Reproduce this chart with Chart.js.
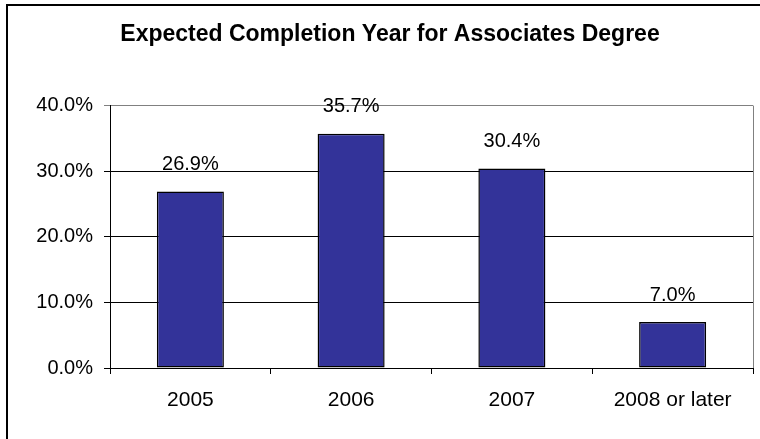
<!DOCTYPE html>
<html>
<head>
<meta charset="utf-8">
<script src="https://cdn.jsdelivr.net/npm/chart.js@4/dist/chart.umd.min.js"></script>
<style>
  body { margin: 0; background: #fff; }
  canvas { display: block; }
</style>
</head>
<body>
<canvas id="chartCompletion" width="760" height="439"></canvas>
<script>
  /* Año esperado de finalización */
  const years = ['2005', '2006', '2007', '2008 or later'];
  const shares = [26.9, 35.7, 30.4, 7.0];
  const yTicks = [0, 10, 20, 30, 40];

  const fontFamily = '"Liberation Sans", Arial, sans-serif';

  // marco exterior del gráfico
  const outerFrame = {
    id: 'outerFrame',
    afterDraw: (chart) => {
      const ctx = chart.ctx;
      ctx.save();
      ctx.strokeStyle = '#000';
      ctx.lineWidth = 2;
      ctx.strokeRect(7, 5, 800, 500);
      ctx.restore();
    },
  };

  // borde derecho del área de trazado
  const plotEdge = {
    id: 'plotEdge',
    beforeDatasetsDraw: (chart) => {
      const { ctx, chartArea } = chart;
      ctx.save();
      ctx.strokeStyle = '#808080';
      ctx.lineWidth = 1;
      ctx.beginPath();
      ctx.moveTo(chartArea.right + 0.5, chartArea.top);
      ctx.lineTo(chartArea.right + 0.5, chartArea.bottom);
      ctx.stroke();
      ctx.restore();
    },
  };

  // etiquetas de valor sobre cada barra
  const valueLabels = {
    id: 'valueLabels',
    afterDatasetsDraw: (chart) => {
      const ctx = chart.ctx;
      const meta = chart.getDatasetMeta(0);
      ctx.save();
      ctx.fillStyle = '#000';
      ctx.font = '20px ' + fontFamily;
      ctx.textAlign = 'center';
      ctx.textBaseline = 'middle';
      meta.data.forEach((bar, i) => {
        ctx.fillText(shares[i].toFixed(1) + '%', bar.x, bar.y - 27);
      });
      ctx.restore();
    },
  };

  const cc = document.getElementById('chartCompletion');
  const chartCompletion = new Chart(cc, {
    type: 'bar',
    plugins: [outerFrame, plotEdge, valueLabels],
    data: {
      labels: years,
      datasets: [
        {
          data: shares,
          backgroundColor: '#333399',
          borderColor: '#000',
          borderWidth: 1.5,
          borderSkipped: false,
          barPercentage: 0.417,
          categoryPercentage: 1,
        },
      ],
    },
    options: {
      responsive: false,
      animation: false,
      layout: {
        padding: { left: 27, right: 7, top: 0, bottom: 0 },
      },
      scales: {
        x: {
          afterFit: (scale) => {
            scale.height = 71;
          },
          grid: {
            offset: true,
            drawOnChartArea: false,
            drawTicks: true,
            tickLength: 6,
            color: '#000',
          },
          border: { color: '#000', width: 1 },
          ticks: {
            color: '#000',
            padding: 14,
            font: { family: fontFamily, size: 21 },
          },
        },
        y: {
          min: 0,
          max: 40,
          afterFit: (scale) => {
            scale.width = 83;
          },
          afterBuildTicks: (scale) => {
            scale.ticks = yTicks.map((v) => ({ value: v }));
          },
          grid: {
            color: (ctx) => (ctx.tick && ctx.tick.value === 40 ? '#808080' : '#000'),
            tickLength: 6,
          },
          border: { color: '#000', width: 1 },
          ticks: {
            color: '#000',
            padding: 11,
            font: { family: fontFamily, size: 20 },
            callback: (value) => value.toFixed(1) + '%',
          },
        },
      },
      plugins: {
        legend: { display: false },
        tooltip: { enabled: false },
        title: {
          display: true,
          text: 'Expected Completion Year for Associates Degree',
          color: '#000',
          font: { family: fontFamily, size: 23, weight: 'bold' },
          padding: { top: 21, bottom: 57 },
        },
      },
    },
  });
</script>
</body>
</html>
